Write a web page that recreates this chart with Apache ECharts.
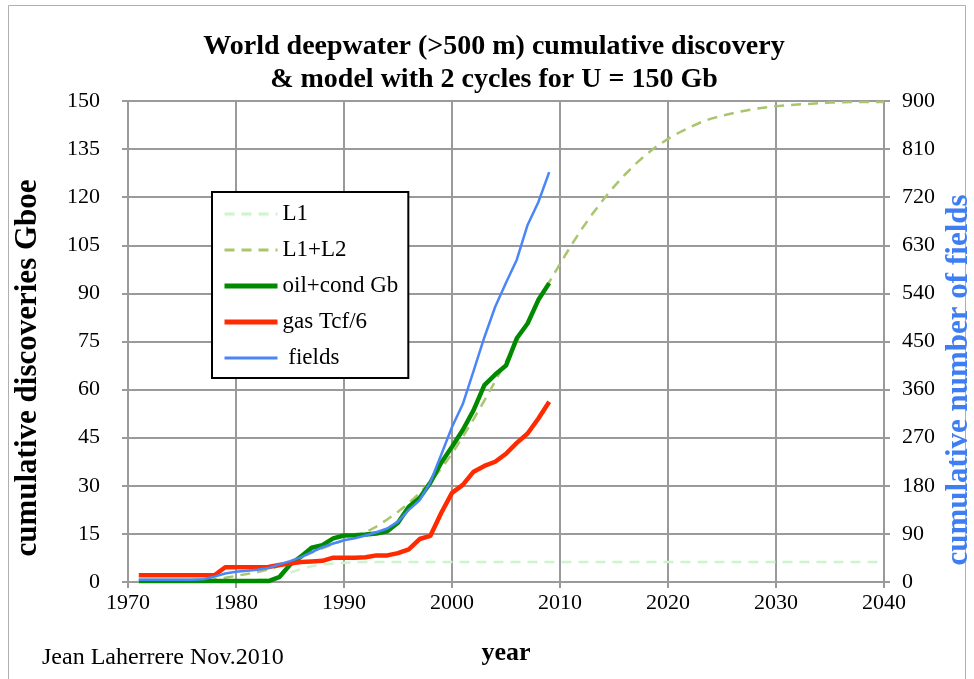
<!DOCTYPE html>
<html>
<head>
<meta charset="utf-8">
<script src="https://cdn.jsdelivr.net/npm/echarts@6/dist/echarts.min.js"></script>
<style>
  html, body { margin: 0; padding: 0; background: #fff; overflow: hidden; }
  #chart { width: 974px; height: 679px; }
</style>
</head>
<body>
<div id="chart"></div>
<script>
// Observed discoveries, one value per year from 1971 to 2009
const obsStart = 1971;
const oilCond = [0.3, 0.3, 0.3, 0.3, 0.3, 0.3, 0.3, 0.3, 0.3, 0.3,
  0.3, 0.3, 0.3, 1.5, 5.4, 7.9, 10.7, 11.5, 13.6, 14.5,
  14.6, 14.8, 15.1, 15.8, 18.5, 23.5, 26.2, 31.0, 37.2, 42.2,
  47.4, 53.6, 61.4, 64.7, 67.5, 76.0, 80.6, 88.0, 93.2];
const gasTcf6 = [2.1, 2.1, 2.1, 2.1, 2.1, 2.1, 2.1, 2.1, 4.6, 4.6,
  4.6, 4.6, 4.7, 5.3, 5.8, 6.2, 6.4, 6.6, 7.6, 7.6,
  7.6, 7.7, 8.3, 8.3, 9.0, 10.2, 13.4, 14.4, 21.5, 27.8,
  30.3, 34.4, 36.2, 37.5, 40.0, 43.4, 46.3, 51.0, 56.2];
const fieldCount = [4, 4, 4, 4, 4, 4, 5, 10, 16, 19,
  21, 23, 26, 33, 39, 46, 56, 65, 72, 78,
  82, 87, 93, 100, 113, 135, 153, 187, 238, 290,
  333, 395, 458, 515, 560, 603, 668, 711, 767];

// Two-cycle model, one value per year from 1971 to 2040
const modelStart = 1971;
const modelL1 = [0.0, 0.0, 0.0, 0.0, 0.0, 0.1, 0.1, 0.1, 0.2, 0.3,
  0.5, 0.8, 0.8, 1.6, 2.9, 4.0, 4.9, 5.5, 5.8, 6.0,
  6.1, 6.2, 6.2, 6.2, 6.2, 6.2, 6.2, 6.2, 6.2, 6.2,
  6.2, 6.2, 6.2, 6.2, 6.2, 6.2, 6.2, 6.2, 6.2, 6.2,
  6.2, 6.2, 6.2, 6.2, 6.2, 6.2, 6.2, 6.2, 6.2, 6.2,
  6.2, 6.2, 6.2, 6.2, 6.2, 6.2, 6.2, 6.2, 6.2, 6.2,
  6.2, 6.2, 6.2, 6.2, 6.2, 6.2, 6.2, 6.2, 6.2, 6.2];
const modelL1L2 = [0.1, 0.1, 0.1, 0.2, 0.2, 0.3, 0.5, 0.8, 1.3, 1.9,
  2.5, 3.1, 3.9, 5.0, 6.3, 7.7, 9.1, 10.5, 11.8, 13.0,
  14.2, 15.5, 17.3, 19.5, 21.9, 24.6, 27.7, 31.3, 35.4, 40.0,
  45.3, 50.8, 56.6, 62.6, 68.8, 75.0, 81.2, 87.4, 93.5, 99.2,
  104.8, 110.0, 114.8, 119.2, 123.3, 127.0, 130.4, 133.4, 136.0, 138.2,
  140.1, 141.8, 143.3, 144.5, 145.4, 146.2, 146.9, 147.5, 148.0, 148.4,
  148.7, 148.9, 149.1, 149.3, 149.5, 149.6, 149.7, 149.7, 149.7, 149.7];

// Axis ticks
const xTicks = { min: 1970, max: 2040, step: 10 };
const leftTicks = { min: 0, max: 150, step: 15 };
const rightTicks = { min: 0, max: 900, step: 90 };

function pairs(start, values) {
  return values.map((v, i) => [start + i, v]);
}

const FONT = '"Liberation Serif", "Times New Roman", serif';
const GRID_COLOR = '#9a9a9a';
const plainNumber = v => String(v);

const COLORS = {
  l1: '#ccf5cc',
  l1l2: '#a9c56e',
  oil: '#008a00',
  gas: '#ff2a00',
  fields: '#4a86f7'
};
const DASH = [10, 7];

const chart = echarts.init(document.getElementById('chart'), null, { renderer: 'canvas' });

chart.setOption({
  backgroundColor: '#ffffff',
  animation: false,
  textStyle: { fontFamily: FONT, color: '#000' },
  grid: { left: 128, right: 90, top: 101, bottom: 97, containLabel: false, outerBoundsMode: 'none' },
  graphic: [
    {
      type: 'rect',
      shape: { x: 8.5, y: 5.5, width: 957, height: 700 },
      style: { fill: 'none', stroke: '#b0b0b0', lineWidth: 1 },
      z: -10
    },
    {
      type: 'text',
      x: 494, y: 30,
      style: {
        text: 'World deepwater (>500 m) cumulative discovery\n& model with 2 cycles for U = 150 Gb',
        font: 'bold 28px ' + FONT,
        fill: '#000',
        textAlign: 'center',
        lineHeight: 33
      }
    },
    {
      // left axis title
      type: 'text',
      x: 28, y: 368,
      rotation: Math.PI / 2,
      style: {
        text: 'cumulative discoveries Gboe',
        font: 'bold 31px ' + FONT,
        fill: '#000',
        textAlign: 'center',
        textVerticalAlign: 'middle'
      }
    },
    {
      // right axis title
      type: 'text',
      x: 959, y: 380,
      rotation: Math.PI / 2,
      style: {
        text: 'cumulative number of fields',
        font: 'bold 31px ' + FONT,
        fill: '#3f7ef2',
        textAlign: 'center',
        textVerticalAlign: 'middle'
      }
    },
    {
      type: 'text',
      x: 42, y: 646,
      style: { text: 'Jean Laherrere Nov.2010', font: '24px ' + FONT, fill: '#000' }
    }
  ],
  legend: {
    orient: 'vertical',
    left: 212, top: 192,
    padding: [10, 10, 8, 10],
    itemWidth: 53,
    itemHeight: 12,
    itemGap: 12,
    backgroundColor: '#fff',
    borderColor: '#000',
    borderWidth: 2,
    itemStyle: { color: 'rgba(0,0,0,0)', borderWidth: 0, opacity: 0 },
    textStyle: { fontFamily: FONT, fontSize: 23, color: '#000', lineHeight: 24 },
    data: [
      { name: 'L1', lineStyle: { color: COLORS.l1, width: 3, type: DASH } },
      { name: 'L1+L2', lineStyle: { color: COLORS.l1l2, width: 3, type: DASH } },
      { name: 'oil+cond Gb', lineStyle: { color: COLORS.oil, width: 5 } },
      { name: 'gas Tcf/6', lineStyle: { color: COLORS.gas, width: 5 } },
      { name: ' fields', lineStyle: { color: COLORS.fields, width: 3 } }
    ]
  },
  xAxis: {
    type: 'value',
    min: xTicks.min, max: xTicks.max, interval: xTicks.step,
    name: 'year',
    nameLocation: 'middle',
    nameGap: 58,
    nameTextStyle: { fontFamily: FONT, fontSize: 26, fontWeight: 'bold', color: '#000' },
    axisLine: { show: true, lineStyle: { color: GRID_COLOR, width: 2 } },
    axisTick: { show: true, length: 6, lineStyle: { color: GRID_COLOR, width: 2 } },
    axisLabel: { fontFamily: FONT, fontSize: 22, color: '#000', margin: 10, formatter: plainNumber },
    splitLine: { show: true, lineStyle: { color: GRID_COLOR, width: 2 } }
  },
  yAxis: [
    {
      type: 'value',
      position: 'left',
      min: leftTicks.min, max: leftTicks.max, interval: leftTicks.step,
      axisLine: { show: true, lineStyle: { color: GRID_COLOR, width: 2 } },
      axisTick: { show: true, length: 6, lineStyle: { color: GRID_COLOR, width: 2 } },
      axisLabel: { fontFamily: FONT, fontSize: 22, color: '#000', margin: 28 },
      splitLine: { show: true, lineStyle: { color: GRID_COLOR, width: 2 } }
    },
    {
      type: 'value',
      position: 'right',
      min: rightTicks.min, max: rightTicks.max, interval: rightTicks.step,
      axisLine: { show: true, lineStyle: { color: GRID_COLOR, width: 2 } },
      axisTick: { show: true, length: 6, lineStyle: { color: GRID_COLOR, width: 2 } },
      axisLabel: { fontFamily: FONT, fontSize: 22, color: '#000', margin: 18 },
      splitLine: { show: false }
    }
  ],
  series: [
    {
      name: 'L1', type: 'line', yAxisIndex: 0, symbol: 'none',
      data: pairs(modelStart, modelL1),
      lineStyle: { color: COLORS.l1, width: 2.5, type: DASH },
      itemStyle: { color: COLORS.l1 }, z: 2
    },
    {
      name: 'L1+L2', type: 'line', yAxisIndex: 0, symbol: 'none',
      data: pairs(modelStart, modelL1L2),
      lineStyle: { color: COLORS.l1l2, width: 2.5, type: DASH },
      itemStyle: { color: COLORS.l1l2 }, z: 3
    },
    {
      name: 'oil+cond Gb', type: 'line', yAxisIndex: 0, symbol: 'none',
      data: pairs(obsStart, oilCond),
      lineStyle: { color: COLORS.oil, width: 4.5 },
      itemStyle: { color: COLORS.oil }, z: 4
    },
    {
      name: 'gas Tcf/6', type: 'line', yAxisIndex: 0, symbol: 'none',
      data: pairs(obsStart, gasTcf6),
      lineStyle: { color: COLORS.gas, width: 4.5 },
      itemStyle: { color: COLORS.gas }, z: 5
    },
    {
      name: ' fields', type: 'line', yAxisIndex: 1, symbol: 'none',
      data: pairs(obsStart, fieldCount),
      lineStyle: { color: COLORS.fields, width: 2.5 },
      itemStyle: { color: COLORS.fields }, z: 6
    }
  ]
});
</script>
</body>
</html>
